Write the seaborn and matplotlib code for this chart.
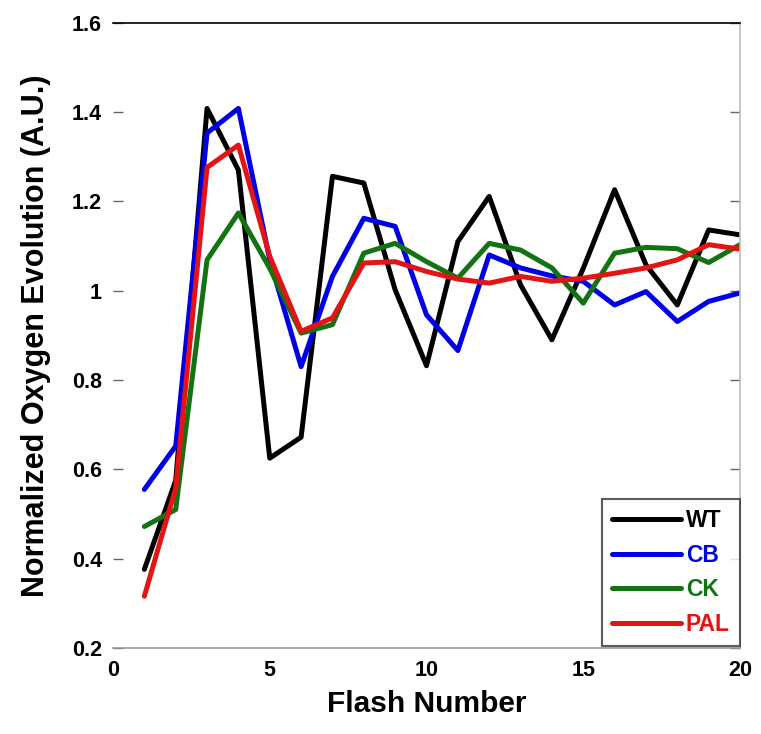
import numpy as np
import pandas as pd
import matplotlib
matplotlib.use("Agg")
import matplotlib.pyplot as plt
import seaborn as sns
from matplotlib.ticker import FuncFormatter

flash = list(range(1, 21))
wt = [0.376, 0.575, 1.408, 1.27, 0.625, 0.672, 1.256, 1.241, 1.002, 0.832,
      1.11, 1.211, 1.013, 0.89, 1.05, 1.226, 1.058, 0.968, 1.136, 1.125]
cb = [0.555, 0.652, 1.353, 1.408, 1.069, 0.83, 1.032, 1.162, 1.144, 0.946,
      0.866, 1.08, 1.051, 1.033, 1.021, 0.968, 0.998, 0.931, 0.976, 0.995]
ck = [0.472, 0.51, 1.069, 1.174, 1.05, 0.905, 0.924, 1.084, 1.106, 1.065,
      1.028, 1.106, 1.091, 1.051, 0.972, 1.084, 1.097, 1.094, 1.063, 1.103]
pal = [0.316, 0.558, 1.276, 1.326, 1.077, 0.909, 0.939, 1.062, 1.065, 1.043,
       1.026, 1.017, 1.032, 1.021, 1.028, 1.039, 1.051, 1.069, 1.103, 1.093]
series_names = ["WT", "CB", "CK", "PAL"]
colors = ["#000000", "#0000e6", "#137313", "#e41414"]
yticks = [0.2, 0.4, 0.6, 0.8, 1.0, 1.2, 1.4, 1.6]
xticks = [0, 5, 10, 15, 20]

df = pd.DataFrame({
    "Flash": flash * 4,
    "Value": wt + cb + ck + pal,
    "Strain": sum([[n] * len(flash) for n in series_names], []),
})

sns.set_style("white")
plt.rcParams["font.family"] = ["Liberation Sans", "DejaVu Sans"]
plt.rcParams["font.weight"] = "bold"
plt.rcParams["text.color"] = "black"
plt.rcParams["axes.labelcolor"] = "black"

fig = plt.figure(figsize=(7.61, 7.34), dpi=100)
ax = fig.add_axes([113 / 761, 1 - 648 / 734, (740 - 113) / 761, (648 - 22.7) / 734])

sns.lineplot(data=df, x="Flash", y="Value", hue="Strain", hue_order=series_names,
             palette=colors, linewidth=3.6, ax=ax, legend=False)

ax.set_xlim(0, 20)
ax.set_ylim(0.2, 1.6)
ax.set_xticks(xticks)
ax.set_yticks(yticks)
ax.yaxis.set_major_formatter(FuncFormatter(lambda v, p: f"{v:g}"))
ax.tick_params(axis="x", length=0, pad=9, labelsize=15.5, labelcolor="black")
ax.tick_params(axis="y", direction="in", length=7, width=1.0, color="#666666",
               pad=8, labelsize=15.5, right=True, left=True, labelcolor="black")
for lab in ax.get_xticklabels() + ax.get_yticklabels():
    lab.set_fontweight("bold")

ax.spines["left"].set_visible(False)
ax.spines["top"].set_color("black")
ax.spines["top"].set_linewidth(1.2)
ax.spines["right"].set_color("#bbbbbb")
ax.spines["right"].set_linewidth(1.2)
ax.spines["bottom"].set_color("#999999")
ax.spines["bottom"].set_linewidth(1.2)

ax.set_xlabel("Flash Number", fontsize=21.5, fontweight="bold", labelpad=6)
ax.set_ylabel("Normalized Oxygen Evolution (A.U.)", fontsize=22, fontweight="bold", labelpad=15)

handles = [plt.Line2D([], [], color=c, lw=3.6) for c in colors]
leg = ax.legend(handles, series_names, loc="lower right", bbox_to_anchor=(1.0, 0.003),
                handlelength=3.0, handletextpad=0.2, labelspacing=0.5,
                frameon=True, fancybox=False, borderpad=0.45, borderaxespad=0.0,
                prop={"weight": "bold", "size": 16.5})
leg.get_frame().set_edgecolor("#333333")
leg.get_frame().set_linewidth(1.5)
for t, c in zip(leg.get_texts(), colors):
    t.set_color(c)

fig.savefig("out.png", dpi=100)
